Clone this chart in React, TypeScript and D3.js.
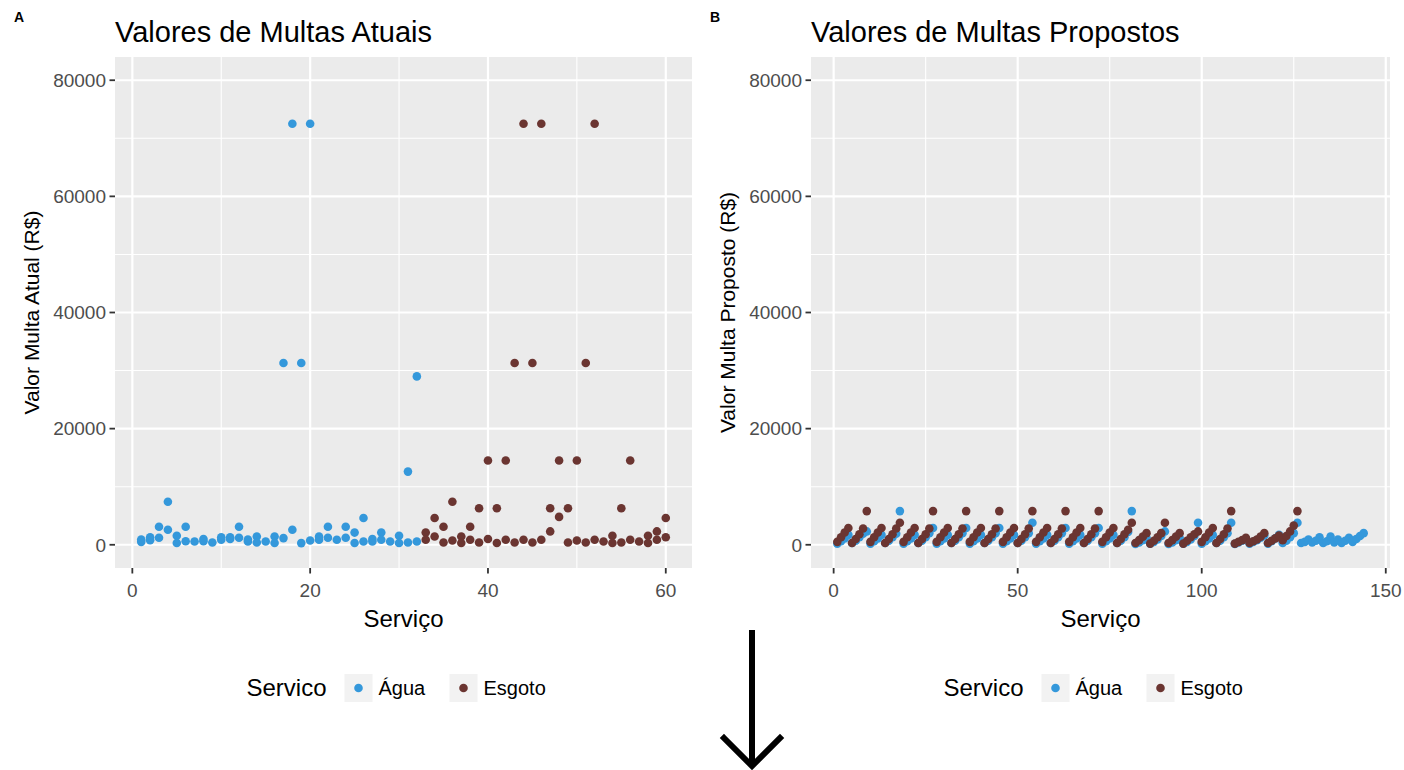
import * as d3 from "d3";

// Serviço x valor (R$) – painel A
const aguaAtual: [number, number][] = [
  [1, 500], [1, 900], [2, 800], [2, 1300], [3, 3100], [3, 1200],
  [4, 7400], [4, 2600], [5, 1550], [5, 300], [6, 3100], [6, 600],
  [7, 570], [8, 1000], [8, 600], [9, 400], [10, 860], [10, 1300],
  [11, 1000], [11, 1300], [12, 3100], [12, 1200], [13, 570], [13, 900],
  [14, 1430], [14, 400], [15, 570], [16, 1430], [16, 300], [17, 1150],
  [17, 31300], [18, 2600], [18, 72500], [19, 290], [19, 31300], [20, 740],
  [20, 72500], [21, 860], [21, 1400], [22, 3100], [22, 1200], [23, 860],
  [24, 3100], [24, 1200], [25, 2100], [25, 300], [26, 4600], [26, 570],
  [27, 570], [27, 1000], [28, 2100], [28, 860], [29, 570], [30, 1550],
  [30, 300], [31, 12600], [31, 400], [32, 29000], [32, 570],
];

const esgotoAtual: [number, number][] = [
  [33, 2100], [33, 860], [34, 4600], [34, 1430], [35, 3100], [35, 400],
  [36, 7400], [36, 740], [37, 1430], [37, 300], [38, 3100], [38, 860],
  [39, 6300], [39, 400], [40, 14500], [40, 1000], [41, 6300], [41, 300],
  [42, 14500], [42, 860], [43, 31300], [43, 400], [44, 72500], [44, 860],
  [45, 31300], [45, 400], [46, 72500], [46, 860], [47, 6300], [47, 2300],
  [48, 14500], [48, 4800], [49, 6300], [49, 400], [50, 14500], [50, 740],
  [51, 31300], [51, 400], [52, 72500], [52, 860], [53, 570], [54, 1550],
  [54, 300], [55, 6300], [55, 400], [56, 14500], [56, 860], [57, 570],
  [58, 1550], [58, 300], [59, 2300], [59, 860], [60, 4600], [60, 1300],
];

// painel B: valor por serviço (serviço = posição + 1)
const aguaProposto: number[] = [
  200, 600, 1100, 1700, 300, 700, 1300, 1900, 2300,
  200, 600, 1100, 1700, 300, 700, 1300, 1900, 5800,
  200, 600, 1100, 1700, 300, 700, 1300, 2000, 2900,
  200, 600, 1100, 1700, 300, 700, 1300, 2000, 2900,
  200, 600, 1100, 1700, 300, 700, 1300, 2000, 2900,
  200, 600, 1100, 1700, 300, 700, 1300, 2000, 3800,
  200, 600, 1100, 1700, 300, 700, 1300, 2000, 2900,
  200, 600, 1100, 1700, 300, 700, 1300, 2000, 2900,
  200, 600, 1100, 1700, 300, 700, 1300, 2200, 5800,
  150, 400, 800, 1200, 200, 500, 900, 1500, 2300,
  150, 400, 800, 1200, 200, 500, 900, 1500, 3800,
  200, 600, 1100, 1700, 300, 700, 1300, 2000, 3800,
  150, 400, 700, 1000, 200, 500, 800, 1200, 1600,
  200, 600, 1100, 1700, 300, 700, 1300, 2000, 3800,
  300, 500, 900, 400, 700, 1300, 300, 600, 1400,
  400, 900, 300, 700, 1200, 500, 1000, 1500, 2000,
];

const esgotoProposto: number[] = [
  500, 1300, 2100, 2900, 300, 1000, 1800, 2800, 5800,
  500, 1300, 2100, 2900, 300, 1000, 1800, 2800, 3800,
  500, 1300, 2100, 2900, 300, 1000, 1800, 2800, 5800,
  500, 1300, 2100, 2900, 300, 1000, 1800, 2800, 5800,
  500, 1300, 2100, 2900, 300, 1000, 1800, 2800, 5800,
  500, 1300, 2100, 2900, 300, 1000, 1800, 2800, 5800,
  500, 1300, 2100, 2900, 300, 1000, 1800, 2800, 5800,
  500, 1300, 2100, 2900, 300, 1000, 1800, 2800, 5800,
  500, 1300, 2100, 2900, 300, 1000, 1800, 2600, 3800,
  300, 800, 1400, 2000, 200, 700, 1300, 2000, 3800,
  300, 800, 1400, 2000, 200, 700, 1300, 1800, 2300,
  500, 1300, 2100, 2900, 300, 1000, 1800, 2800, 5800,
  200, 500, 800, 1200, 300, 600, 900, 1400, 2000,
  300, 700, 1100, 1600, 800, 1500, 2300, 3300, 5800,
];

const yTicks = [0, 20000, 40000, 60000, 80000];
const yMinor = [10000, 30000, 50000, 70000];
const xTicksA = [0, 20, 40, 60];
const xMinorA = [10, 30, 50];
const xTicksB = [0, 50, 100, 150];
const xMinorB = [25, 75, 125];

const AGUA = "#3498DB";
const ESGOTO = "#6B3531";
const FONT = "'Liberation Sans', Arial, sans-serif";

const TOP = 57;
const BOTTOM = 568;

interface PanelProps {
  tag: string;
  title: string;
  yLabel: string;
  left: number;
  right: number;
  xExtent: [number, number];
  xTicks: number[];
  xMinor: number[];
  agua: [number, number][];
  esgoto: [number, number][];
}

function Panel({ tag, title, yLabel, left, right, xExtent, xTicks, xMinor, agua, esgoto }: PanelProps) {
  const pad = (xExtent[1] - xExtent[0]) * 0.05;
  const x = d3.scaleLinear().domain([xExtent[0] - pad, xExtent[1] + pad]).range([left, right]);
  const y = d3.scaleLinear().domain([-4000, 84000]).range([BOTTOM, TOP]);
  const cx = (left + right) / 2;
  const legendX = cx - 157;

  return (
    <g>
      <text x={left - 101} y={22} fontSize={14} fontWeight="bold" fill="#000">{tag}</text>
      <text x={left} y={42} fontSize={29} fill="#000">{title}</text>

      <rect x={left} y={TOP} width={right - left} height={BOTTOM - TOP} fill="#EBEBEB" />
      {yMinor.map((v) => (
        <line key={"ym" + v} x1={left} x2={right} y1={y(v)} y2={y(v)} stroke="#fff" strokeWidth={1.1} />
      ))}
      {xMinor.map((v) => (
        <line key={"xm" + v} x1={x(v)} x2={x(v)} y1={TOP} y2={BOTTOM} stroke="#fff" strokeWidth={1.1} />
      ))}
      {yTicks.map((v) => (
        <line key={"yg" + v} x1={left} x2={right} y1={y(v)} y2={y(v)} stroke="#fff" strokeWidth={2.2} />
      ))}
      {xTicks.map((v) => (
        <line key={"xg" + v} x1={x(v)} x2={x(v)} y1={TOP} y2={BOTTOM} stroke="#fff" strokeWidth={2.2} />
      ))}

      {agua.map(([s, v], i) => (
        <circle key={"a" + i} cx={x(s)} cy={y(v)} r={4.3} fill={AGUA} />
      ))}
      {esgoto.map(([s, v], i) => (
        <circle key={"e" + i} cx={x(s)} cy={y(v)} r={4.3} fill={ESGOTO} />
      ))}

      {yTicks.map((v) => (
        <g key={"yt" + v}>
          <line x1={left - 5.5} x2={left} y1={y(v)} y2={y(v)} stroke="#333" strokeWidth={1.8} />
          <text x={left - 9} y={y(v)} dy="0.36em" textAnchor="end" fontSize={19} fill="#4D4D4D">{v}</text>
        </g>
      ))}
      {xTicks.map((v) => (
        <g key={"xt" + v}>
          <line x1={x(v)} x2={x(v)} y1={BOTTOM} y2={BOTTOM + 5.5} stroke="#333" strokeWidth={1.8} />
          <text x={x(v)} y={BOTTOM + 29} textAnchor="middle" fontSize={19} fill="#4D4D4D">{v}</text>
        </g>
      ))}

      <text x={cx} y={627} textAnchor="middle" fontSize={24} fill="#000">Serviço</text>
      <text
        transform={`translate(${left - 76},${(TOP + BOTTOM) / 2}) rotate(-90)`}
        textAnchor="middle"
        fontSize={21}
        fill="#000"
      >
        {yLabel}
      </text>

      <text x={legendX} y={696} fontSize={24} fill="#000">Servico</text>
      <rect x={legendX + 98} y={674} width={28} height={28} fill="#F2F2F2" />
      <circle cx={legendX + 112} cy={688} r={4.3} fill={AGUA} />
      <text x={legendX + 132} y={695} fontSize={20} fill="#000">Água</text>
      <rect x={legendX + 203} y={674} width={28} height={28} fill="#F2F2F2" />
      <circle cx={legendX + 217} cy={688} r={4.3} fill={ESGOTO} />
      <text x={legendX + 237} y={695} fontSize={20} fill="#000">Esgoto</text>
    </g>
  );
}

export default function App() {
  const aguaB: [number, number][] = aguaProposto.map((v, i) => [i + 1, v]);
  const esgotoB: [number, number][] = esgotoProposto.map((v, i) => [i + 1, v]);

  return (
    <svg
      width={1404}
      height={770}
      style={{ position: "absolute", left: 0, top: 0, background: "#fff" }}
      fontFamily={FONT}
    >
      <rect width={1404} height={770} fill="#fff" />
      <Panel
        tag="A"
        title="Valores de Multas Atuais"
        yLabel="Valor Multa Atual (R$)"
        left={115}
        right={692}
        xExtent={[1, 60]}
        xTicks={xTicksA}
        xMinor={xMinorA}
        agua={aguaAtual}
        esgoto={esgotoAtual}
      />
      <Panel
        tag="B"
        title="Valores de Multas Propostos"
        yLabel="Valor Multa Proposto (R$)"
        left={811}
        right={1390}
        xExtent={[1, 144]}
        xTicks={xTicksB}
        xMinor={xMinorB}
        agua={aguaB}
        esgoto={esgotoB}
      />
      <path d="M752,630 V766" stroke="#000" strokeWidth={6} fill="none" />
      <path d="M724,738 L752,766 L780,738" stroke="#000" strokeWidth={6} fill="none" strokeLinecap="square" />
    </svg>
  );
}
